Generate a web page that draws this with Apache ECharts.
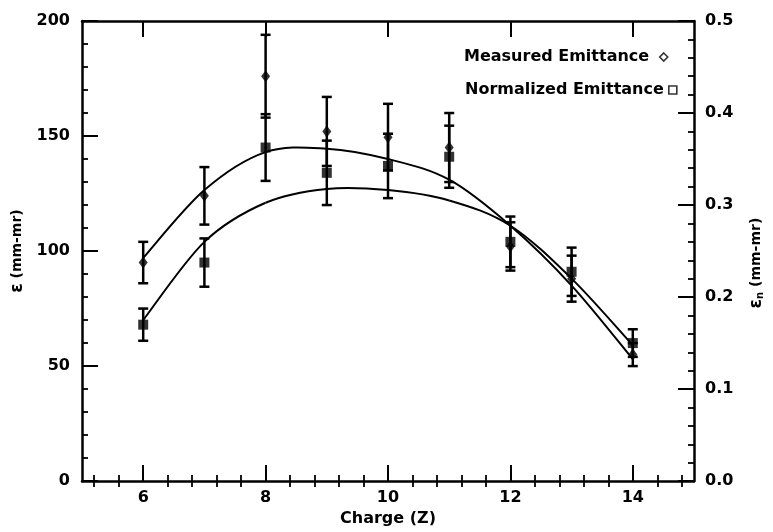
<!DOCTYPE html>
<html>
<head>
<meta charset="utf-8">
<script src="https://cdn.jsdelivr.net/npm/echarts@6/dist/echarts.min.js"></script>
<style>
  html, body { margin: 0; padding: 0; background: #fff; }
  #chart { width: 773px; height: 532px; }
</style>
</head>
<body>
<div id="chart"></div>
<script>
// Beam charge state
const charge = [6, 7, 8, 9, 10, 11, 12, 13, 14];

// Measured emittance (mm-mr) and its uncertainty
const measured = [95, 124, 176, 152, 149.5, 145, 102, 88, 55];
const measuredErr = [9, 12.5, 18, 15, 14.5, 15, 10.5, 10, 5];

// Normalized emittance, plotted on the same left scale (right scale = left / 400)
const normalized = [68, 95, 145, 134, 137, 141, 104, 91, 60];
const normalizedErr = [7, 10.5, 14.5, 14, 14, 13.5, 11, 10.5, 6];

// Fitted curves, sampled at each charge state
const measuredFit = [97, 126.5, 143, 144.5, 140, 131, 111, 85, 53];
const normalizedFit = [70, 104, 121, 127, 126.5, 122, 111, 88, 59];

// Tick labels
const chargeTicks = [6, 8, 10, 12, 14];
const leftTicks = [0, 50, 100, 150, 200];
const rightTicks = [0.0, 0.1, 0.2, 0.3, 0.4, 0.5];

// Minor charge ticks: five steps per major interval, across the whole 5..15 span
const chargeMinor = [];
for (let k = 13; k <= 37; k++) {
  const v = Math.round(k * 0.4 * 10) / 10;
  if (chargeTicks.indexOf(v) < 0) chargeMinor.push(v);
}

const FONT = 'DejaVu Sans';
const INK = '#000';

const chart = echarts.init(document.getElementById('chart'), null, { renderer: 'canvas' });

function errorBars(values, errs) {
  return charge.map((c, i) => [c, values[i] - errs[i], values[i] + errs[i]]);
}

function renderErrorBar(params, api) {
  const x = api.value(0);
  const top = api.coord([x, api.value(2)]);
  const bot = api.coord([x, api.value(1)]);
  const half = 5;
  const style = { stroke: INK, lineWidth: 2.5 };
  return {
    type: 'group',
    children: [
      { type: 'line', shape: { x1: top[0], y1: top[1], x2: bot[0], y2: bot[1] }, style },
      { type: 'line', shape: { x1: top[0] - half, y1: top[1], x2: top[0] + half, y2: top[1] }, style },
      { type: 'line', shape: { x1: bot[0] - half, y1: bot[1], x2: bot[0] + half, y2: bot[1] }, style }
    ]
  };
}

// Smooth fit curve: each item draws a Catmull-Rom segment to the next sample
function fitCurve(fit) {
  return function (params, api) {
    const i = params.dataIndex;
    if (i >= charge.length - 1) return null;
    const pt = k => {
      const j = Math.max(0, Math.min(charge.length - 1, k));
      return api.coord([charge[j], fit[j]]);
    };
    const p0 = pt(i - 1), p1 = pt(i), p2 = pt(i + 1), p3 = pt(i + 2);
    return {
      type: 'bezierCurve',
      shape: {
        x1: p1[0], y1: p1[1], x2: p2[0], y2: p2[1],
        cpx1: p1[0] + (p2[0] - p0[0]) / 6, cpy1: p1[1] + (p2[1] - p0[1]) / 6,
        cpx2: p2[0] - (p3[0] - p1[0]) / 6, cpy2: p2[1] - (p3[1] - p1[1]) / 6
      },
      style: { stroke: INK, lineWidth: 2, fill: null }
    };
  };
}

const axisText = { fontFamily: FONT, fontWeight: 'bold', fontSize: 16, color: INK };
const axisLine = { show: true, onZero: false, lineStyle: { color: INK, width: 2.5 } };
const majorTick = { show: true, inside: true, length: 16, lineStyle: { color: INK, width: 2 } };
const shortTick = { show: true, inside: true, length: 6, lineStyle: { color: INK, width: 1.8 } };
const noLine = { show: false };
const noLabel = { show: false };
const noSplit = { show: false };

const legendText = { fontFamily: FONT, fontWeight: 'bold', fontSize: 16, color: INK };
const hollow = { color: '#fff', borderColor: INK, borderWidth: 1.6 };

// Minor-tick axes share the grid and scale with the labelled axes
function minorX(position) {
  return {
    type: 'value', position, min: 5, max: 15,
    axisLine: noLine, axisLabel: noLabel, splitLine: noSplit,
    axisTick: { ...shortTick, customValues: chargeMinor }
  };
}
function minorY(position, max, step) {
  return {
    type: 'value', position, min: 0, max, interval: step,
    axisLine: noLine, axisLabel: noLabel, splitLine: noSplit, axisTick: shortTick
  };
}

const option = {
  backgroundColor: '#fff',
  animation: false,
  grid: { left: 82, right: 79, top: 21, bottom: 45 },
  legend: [
    {
      left: 459, top: 44, align: 'right', itemWidth: 8, itemHeight: 8,
      selectedMode: false, textStyle: legendText, formatter: name => name + ' ',
      data: [{ name: 'Measured Emittance', icon: 'diamond', itemStyle: hollow }]
    },
    {
      left: 460, top: 77, align: 'right', itemWidth: 8, itemHeight: 8,
      selectedMode: false, textStyle: legendText,
      data: [{ name: 'Normalized Emittance', icon: 'rect', itemStyle: hollow }]
    }
  ],
  xAxis: [
    {
      type: 'value', position: 'bottom', min: 5, max: 15,
      name: 'Charge (Z)', nameLocation: 'middle', nameGap: 29,
      nameTextStyle: axisText,
      axisLine,
      axisTick: { ...majorTick, customValues: chargeTicks },
      axisLabel: { ...axisText, margin: 9, customValues: chargeTicks },
      splitLine: noSplit
    },
    {
      type: 'value', position: 'top', min: 5, max: 15,
      axisLine,
      axisTick: { ...majorTick, customValues: chargeTicks },
      axisLabel: noLabel,
      splitLine: noSplit
    },
    minorX('bottom'),
    minorX('top')
  ],
  yAxis: [
    {
      type: 'value', position: 'left', min: leftTicks[0], max: leftTicks[leftTicks.length - 1],
      interval: leftTicks[1] - leftTicks[0],
      name: '{g|ε} (mm-mr)', nameLocation: 'middle', nameGap: 50, nameRotate: 90,
      nameTextStyle: { ...axisText, fontSize: 14, rich: { g: { fontFamily: FONT, fontWeight: 'bold', fontSize: 17, color: INK } } },
      axisLine, axisTick: majorTick,
      axisLabel: { ...axisText, margin: 12 },
      splitLine: noSplit
    },
    {
      type: 'value', position: 'right', min: rightTicks[0], max: rightTicks[rightTicks.length - 1],
      interval: 0.1,
      name: '{g|ε}{s|n} (mm-mr)', nameLocation: 'middle', nameGap: 54, nameRotate: 90,
      nameTextStyle: {
        ...axisText, fontSize: 14,
        padding: [0, 24, 0, 0],
        rich: {
          g: { fontFamily: FONT, fontWeight: 'bold', fontSize: 17, color: INK },
          s: { fontFamily: FONT, fontWeight: 'bold', fontSize: 10, color: INK, verticalAlign: 'bottom', padding: [6, 0, 0, 0] }
        }
      },
      axisLine, axisTick: majorTick,
      axisLabel: { ...axisText, margin: 11, formatter: v => v.toFixed(1) },
      splitLine: noSplit
    },
    minorY('left', 200, 10),
    minorY('right', 0.5, 0.02)
  ],
  series: [
    {
      name: 'Measured fit', type: 'custom', renderItem: fitCurve(measuredFit), silent: true,
      data: charge.map((c, i) => [c, measuredFit[i]]), z: 2
    },
    {
      name: 'Normalized fit', type: 'custom', renderItem: fitCurve(normalizedFit), silent: true,
      data: charge.map((c, i) => [c, normalizedFit[i]]), z: 2
    },
    {
      name: 'Measured errors', type: 'custom', renderItem: renderErrorBar,
      data: errorBars(measured, measuredErr), z: 3, silent: true
    },
    {
      name: 'Normalized errors', type: 'custom', renderItem: renderErrorBar,
      data: errorBars(normalized, normalizedErr), z: 3, silent: true
    },
    {
      name: 'Measured Emittance', type: 'scatter', symbol: 'diamond', symbolSize: [9, 12],
      data: charge.map((c, i) => [c, measured[i]]),
      itemStyle: { color: INK }, z: 4
    },
    {
      name: 'Normalized Emittance', type: 'scatter', symbol: 'rect', symbolSize: 10,
      data: charge.map((c, i) => [c, normalized[i]]),
      itemStyle: { color: INK }, z: 4
    }
  ]
};

chart.setOption(option);
</script>
</body>
</html>
